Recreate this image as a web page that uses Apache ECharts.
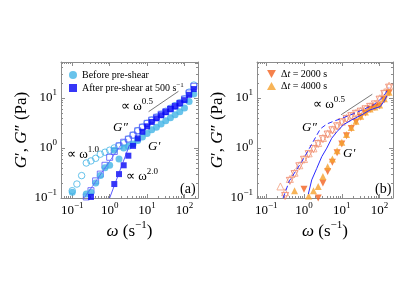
<!DOCTYPE html>
<html><head><meta charset="utf-8">
<script src="https://cdn.jsdelivr.net/npm/echarts@6/dist/echarts.min.js"></script>
<style>html,body{margin:0;padding:0;background:#fff}#c{width:415px;height:294px}</style>
</head><body><div id="c"></div>
<script>
// ---------- data: panel (a) ----------
const omegaA = [0.1, 0.133, 0.178, 0.237, 0.316, 0.422, 0.562, 0.75, 1, 1.33, 1.78, 2.37, 3.16, 4.22, 5.62, 7.5, 10, 13.3, 17.8, 23.7, 31.6, 42.2, 56.2, 75, 100, 133, 178];
const beforeGp  = [0.13, null, null, 0.12, 0.13, 0.2, 0.28, 0.4, 0.45, 0.9, 0.6, 1.0, 1.08, 1.2, 1.4, 1.65, 1.95, 2.3, 2.6, 3.0, 3.5, 4.0, 4.6, 5.3, 6.3, 8.5, 12];
const beforeGpp = [0.14, 0.19, 0.28, 0.5, 0.55, 0.62, 0.75, 0.82, 0.9, 1.0, 1.1, 1.25, 1.5, 1.8, 2.2, 2.6, 3.1, 3.6, 4.1, 4.7, 5.4, 6.2, 7.0, 8.0, 9.5, 13, 18];
const afterGp   = [null, null, null, null, 0.105, null, null, null, null, 0.19, 0.3, 0.45, 0.7, 1.1, 1.55, 2.1, 2.7, 3.3, 3.9, 4.5, 5.2, 6.0, 6.8, 7.8, 9.0, 11.5, 15];
const afterGpp  = [null, null, null, 0.105, 0.14, 0.22, 0.3, 0.45, 0.65, 0.85, 1.1, 1.3, 1.5, 1.8, 2.2, 2.6, 3.1, 3.6, 4.1, 4.7, 5.3, 6.0, 6.8, 7.8, 9.5, 12.5, 17];
const slopeHalfA = [[11, 5.3], [69, 13.5]];
const slopeOneA  = [[0.21, 0.1], [2.0, 1.15]];
const slopeTwoA  = [[1.0, 0.1], [3.4, 1.15]];

// ---------- data: panel (b) ----------
const omegaB = [0.178, 0.237, 0.316, 0.422, 0.562, 0.75, 1, 1.33, 1.78, 2.37, 3.16, 4.22, 5.62, 7.5, 10, 13.3, 17.8, 23.7, 31.6, 42.2, 56.2, 75, 100, 133, 178];
const dt2000Gp  = [null, null, null, null, null, null, 0.15, null, null, 0.1, 0.2, 0.34, 0.52, 0.8, 1.2, 1.75, 2.45, 3.3, 4.1, 5.0, 5.9, 6.4, 6.9, 9.2, 12.5];
const dt4000Gp  = [null, null, null, null, 0.14, null, null, 0.11, 0.14, 0.17, 0.27, 0.42, 0.6, 0.88, 1.3, 1.85, 2.55, 3.4, 4.3, 5.2, 6.0, 6.6, 7.2, 9.6, 13];
const dt2000Gpp = [null, null, 0.11, 0.22, 0.3, 0.43, 0.58, 0.75, 0.95, 1.2, 1.5, 1.85, 2.25, 2.7, 3.25, 3.8, 4.3, 4.8, 5.3, 5.9, 6.6, 7.4, 9.2, 12, 16];
const dt4000Gpp = [null, 0.17, 0.13, 0.24, 0.32, 0.45, 0.6, 0.78, 0.98, 1.25, 1.58, 1.95, 2.35, 2.8, 3.35, 3.95, 4.45, 5.0, 5.5, 6.1, 6.8, 7.6, 9.8, 13, 17.5];
const refOmegaGppB = [0.28, 0.41, 0.87, 1.3, 1.9, 2.7, 4, 6, 10, 20, 40, 70, 100, 140, 175];
const refGppB      = [0.1, 0.22, 0.53, 0.9, 1.5, 2.4, 3.0, 3.4, 3.9, 4.8, 6.0, 7.3, 9, 12, 16];
const refOmegaGpB  = [1.3, 1.6, 2.17, 2.95, 4, 5.4, 7.4, 11, 18, 34, 56, 80, 104, 130, 155];
const refGpB       = [0.12, 0.23, 0.39, 0.67, 0.99, 1.56, 2.1, 2.9, 3.6, 4.6, 5.75, 6.3, 6.7, 8.5, 11];
const slopeHalfB = [[9.6, 4.6], [64, 11.8]];

// ---------- axis ranges ----------
const xRangeA = [0.05, 230];
const xRangeB = [0.057, 226];
const yRange  = [0.1, 52];

const FONT = 'Liberation Serif';
const FRAME = '#8c8c8c';

function pairs(x, y) { return x.map((v, i) => y[i] == null ? null : [v, y[i]]).filter(p => p); }
function supFmt(v) {
  const e = Math.round(Math.log10(v));
  if (Math.abs(Math.log10(v) - e) > 1e-6) return '';
  return '{b|10}{s|' + (e < 0 ? '\u2212' + (-e) : e) + '}';
}
const labelRich = {
  b: { fontFamily: FONT, fontSize: 13, lineHeight: 20, color: '#000' },
  s: { fontFamily: FONT, fontSize: 9, lineHeight: 9, color: '#000', verticalAlign: 'top' }
};
function xAx(gi, range, main) {
  return {
    type: 'log', logBase: 10, gridIndex: gi, min: range[0], max: range[1],
    position: main ? 'bottom' : 'top',
    axisLine: { show: true, onZero: false, lineStyle: { color: FRAME, width: 1 } },
    axisTick: { show: true, inside: true, length: 4, lineStyle: { color: FRAME } },
    minorTick: { show: true, splitNumber: 9, length: 2, lineStyle: { color: FRAME } },
    splitLine: { show: false }, minorSplitLine: { show: false },
    axisLabel: { show: main, formatter: supFmt, rich: labelRich, margin: 3 },
    name: main ? '{i|\u03c9} (s{s|\u22121})' : '',
    nameLocation: 'middle', nameGap: 22,
    nameTextStyle: { fontFamily: FONT, fontSize: 17, lineHeight: 24, color: '#000',
      rich: { i: { fontFamily: FONT, fontSize: 17, lineHeight: 24, fontStyle: 'italic', color: '#000' },
              s: { fontFamily: FONT, fontSize: 11, lineHeight: 11, verticalAlign: 'top', color: '#000' } } }
  };
}
function yAx(gi, main, gap) {
  return {
    type: 'log', logBase: 10, gridIndex: gi, min: yRange[0], max: yRange[1],
    position: main ? 'left' : 'right',
    axisLine: { show: true, onZero: false, lineStyle: { color: FRAME, width: 1 } },
    axisTick: { show: true, inside: true, length: 4, lineStyle: { color: FRAME } },
    minorTick: { show: true, splitNumber: 9, length: 2, lineStyle: { color: FRAME } },
    splitLine: { show: false }, minorSplitLine: { show: false },
    axisLabel: { show: main, formatter: supFmt, rich: labelRich, margin: 4 },
    name: main ? '{i|G}\u2032, {i|G}\u2033 (Pa)' : '',
    nameLocation: 'middle', nameGap: gap,
    nameTextStyle: { fontFamily: FONT, fontSize: 17, color: '#000',
      rich: { i: { fontFamily: FONT, fontSize: 17, fontStyle: 'italic', color: '#000' } } }
  };
}
function scat(name, xi, yi, data, symbol, size, color, open, rotate) {
  return {
    type: 'scatter', name, xAxisIndex: xi, yAxisIndex: yi, data,
    symbol, symbolSize: size, symbolRotate: rotate || 0,
    itemStyle: open ? { color: 'rgba(255,255,255,0)', borderColor: color, borderWidth: 1 }
                    : { color: color, borderWidth: 0 },
    emphasis: { disabled: true }, clip: false, z: open ? 2 : 3
  };
}
function lineS(name, xi, yi, data, color, width, type) {
  return {
    type: 'line', name, xAxisIndex: xi, yAxisIndex: yi, data, symbol: 'none',
    lineStyle: { color, width, type: type || 'solid' }, z: 5, silent: true
  };
}

const CYAN = '#42b4e6', BLUE = '#0505f5', BLUEO = '#5252ff';
const ORA = '#f2621f', YEL = '#f5a12e', SAL1 = '#ee7c60', SAL2 = '#f3a07f';
const LEG_A2 = 'After pre-shear at 500 s\u22121';
const DOWN = 'path://M0,0L10,0L5,9Z';

const txt = (x, y, text, size, italic) => ({
  type: 'text', x, y, silent: true,
  style: { text, fill: '#000', align: 'left', verticalAlign: 'middle', lineHeight: 20,
    font: (italic ? 'italic ' : '') + size + 'px "' + FONT + '"',
    rich: { s: { fontFamily: FONT, fontSize: 9, lineHeight: 9, verticalAlign: 'top', fill: '#000' } } }
});

const option = {
  animation: false,
  backgroundColor: '#fff',
  grid: [
    { left: 61, top: 62, width: 137, height: 136 },
    { left: 257, top: 62, width: 136, height: 136 }
  ],
  xAxis: [xAx(0, xRangeA, true), xAx(0, xRangeA, false), xAx(1, xRangeB, true), xAx(1, xRangeB, false)],
  yAxis: [yAx(0, true, 24), yAx(0, false, 0), yAx(1, true, 17), yAx(1, false, 0)],
  legend: [
    { left: 64, top: 64, orient: 'vertical', itemWidth: 8, itemHeight: 8, itemGap: 1,
      selectedMode: false,
      data: [{ name: 'Before pre-shear', icon: 'circle' }, { name: LEG_A2, icon: 'rect' }],
      formatter: n => n === LEG_A2 ? 'After pre-shear at 500 s{s|\u22121}' : n,
      textStyle: { fontFamily: FONT, fontSize: 10, lineHeight: 12, color: '#000',
        rich: { s: { fontFamily: FONT, fontSize: 7, lineHeight: 7, verticalAlign: 'top', color: '#000' } } } },
    { left: 262, top: 64, orient: 'vertical', itemWidth: 9, itemHeight: 8, itemGap: 2,
      selectedMode: false,
      data: [{ name: '\u0394t = 2000 s', icon: DOWN }, { name: '\u0394t = 4000 s', icon: 'triangle' }],
      formatter: n => n.replace('t', '{i|t}'),
      textStyle: { fontFamily: FONT, fontSize: 10, color: '#000',
        rich: { i: { fontFamily: FONT, fontSize: 10, fontStyle: 'italic', color: '#000' } } } }
  ],
  series: [
    scat('Before G2', 0, 0, pairs(omegaA, beforeGpp), 'circle', 6.5, CYAN, true),
    scat('After G2', 0, 0, pairs(omegaA, afterGpp), 'rect', 6, BLUEO, true),
    scat('Before pre-shear', 0, 0, pairs(omegaA, beforeGp), 'circle', 7, CYAN, false),
    scat(LEG_A2, 0, 0, pairs(omegaA, afterGp), 'rect', 6, BLUE, false),
    lineS('s05a', 0, 0, slopeHalfA, '#555', 0.8),
    lineS('s10a', 0, 0, slopeOneA, '#5a5aff', 0.8),
    lineS('s20a', 0, 0, slopeTwoA, '#3030ff', 0.8),

    scat('dt2000 G2', 2, 2, pairs(omegaB, dt2000Gpp), 'triangle', 7, SAL1, true, 180),
    scat('dt4000 G2', 2, 2, pairs(omegaB, dt4000Gpp), 'triangle', 7, SAL2, true),
    scat('\u0394t = 2000 s', 2, 2, pairs(omegaB, dt2000Gp), 'triangle', 7, ORA, false, 180),
    scat('\u0394t = 4000 s', 2, 2, pairs(omegaB, dt4000Gp), 'triangle', 7, YEL, false),
    lineS('refGpp', 2, 2, pairs(refOmegaGppB, refGppB), '#2a2aff', 1, [5, 3]),
    lineS('refGp', 2, 2, pairs(refOmegaGpB, refGpB), '#2a2aff', 1),
    lineS('s05b', 2, 2, slopeHalfB, '#555', 0.8)
  ],
  graphic: [
    txt(121, 107, '\u221d \u03c9{s|0.5}', 13),
    txt(113, 128, 'G\u2033', 13, true),
    txt(67, 155, '\u221d \u03c9{s|1.0}', 13),
    txt(148, 147, 'G\u2032', 13, true),
    txt(126, 177, '\u221d \u03c9{s|2.0}', 13),
    txt(180, 189, '(a)', 14),
    txt(313, 105, '\u221d \u03c9{s|0.5}', 13),
    txt(302, 128, 'G\u2033', 13, true),
    txt(343, 154, 'G\u2032', 13, true),
    txt(375, 189, '(b)', 14)
  ]
};
const chart = echarts.init(document.getElementById('c'), null, { renderer: 'canvas' });
chart.setOption(option);
</script>
</body></html>
